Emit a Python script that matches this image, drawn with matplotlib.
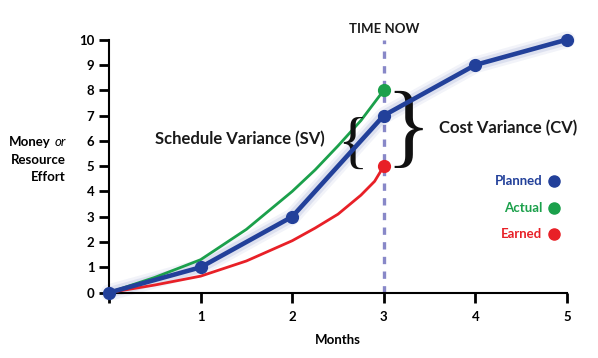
import matplotlib
matplotlib.use('Agg')
import matplotlib.pyplot as plt

# data
months = [0, 1, 2, 3, 4, 5]
planned = [0, 1, 3, 7, 9, 10]
actual_x = [0, 0.5, 1, 1.5, 2, 2.25, 2.5, 2.75, 3]
actual_y = [0, 0.6, 1.3, 2.5, 4.0, 4.85, 5.8, 6.8, 8.0]
earned_x = [0, 0.5, 1, 1.5, 2, 2.25, 2.5, 2.75, 2.9, 3]
earned_y = [0, 0.3, 0.65, 1.25, 2.05, 2.55, 3.1, 3.85, 4.4, 5.0]
time_now = 3

BLUE = '#22409A'
GREEN = '#1BA04B'
RED = '#E82027'
FONT = 'Lato'

plt.rcParams['font.family'] = [FONT, 'DejaVu Sans']

fig = plt.figure(figsize=(5.98, 3.58), dpi=100)
ax = fig.add_axes([109/598, 65.4/358, 458/598, 253/358])
ax.set_xlim(0, 5)
ax.set_ylim(0, 10)

# time now line
ax.plot([time_now, time_now], [0, 10], color='#8888C8', lw=2.4,
        ls=(0, (2.2, 2.2)), clip_on=False, zorder=1)
ax.text(time_now, 10.42, 'TIME NOW', ha='center', va='center',
        fontsize=9.5, fontweight='bold', color='#1a1a1a')

ax.plot(actual_x, actual_y, color=GREEN, lw=2, zorder=3, clip_on=False)
ax.plot(earned_x, earned_y, color=RED, lw=2, zorder=3, clip_on=False)
ax.plot(actual_x[-1], actual_y[-1], 'o', color=GREEN, ms=8.5, zorder=5, clip_on=False)
ax.plot(earned_x[-1], earned_y[-1], 'o', color=RED, ms=8.5, zorder=5, clip_on=False)

# planned with soft glow
for w, a in [(12, 0.06), (8, 0.1)]:
    ax.plot(months, planned, color=BLUE, lw=w, alpha=a, zorder=2,
            solid_capstyle='round', solid_joinstyle='round', clip_on=False)
ax.plot(months, planned, color=BLUE, lw=3.3, marker='o', ms=8.5, zorder=4,
        clip_on=False)

# braces and variance labels
ax.text(2.66, 5.75, '{', ha='center', va='center', fontsize=46,
        family='Liberation Serif', color='#111111')
ax.text(3.27, 6.3, '}', ha='center', va='center', fontsize=68,
        family='Liberation Serif', color='#111111')
ax.text(1.43, 6.05, 'Schedule Variance (SV)', ha='center', va='center',
        fontsize=12, fontweight='bold', color='#1a1a1a')
ax.text(4.36, 6.5, 'Cost Variance (CV)', ha='center', va='center',
        fontsize=12, fontweight='bold', color='#1a1a1a')

# legend
for lab, col, yy in [('Planned', BLUE, 4.4), ('Actual', GREEN, 3.35), ('Earned', RED, 2.3)]:
    ax.text(4.73, yy, lab, ha='right', va='center', fontsize=9.5,
            fontweight='bold', color=col)
    ax.plot(4.86, yy, 'o', color=col, ms=8, clip_on=False)

# axes styling
for s in ['top', 'right']:
    ax.spines[s].set_visible(False)
for s in ['left', 'bottom']:
    ax.spines[s].set_linewidth(1.5)
ax.set_xticks(months)
ax.set_xticklabels([''] + [str(m) for m in months[1:]])
ax.set_yticks(range(0, 11))
ax.tick_params(axis='both', direction='out', length=7, width=2,
               labelsize=9.5)
ax.tick_params(axis='x', pad=6)
for lbl in ax.get_xticklabels() + ax.get_yticklabels():
    lbl.set_fontweight('bold')

ax.set_xlabel('Months', fontsize=9.5, fontweight='bold', labelpad=8)

# y label with italic "or"
fig.text(51/598, 1 - 142/358, 'Money', ha='right', va='center',
         fontsize=9.5, fontweight='bold')
fig.text(66/598, 1 - 142/358, 'or', ha='right', va='center',
         fontsize=9.5, style='italic')
fig.text(66/598, 1 - 160/358, 'Resource', ha='right', va='center',
         fontsize=9.5, fontweight='bold')
fig.text(66/598, 1 - 177/358, 'Effort', ha='right', va='center',
         fontsize=9.5, fontweight='bold')

fig.savefig('out.png', dpi=100)
